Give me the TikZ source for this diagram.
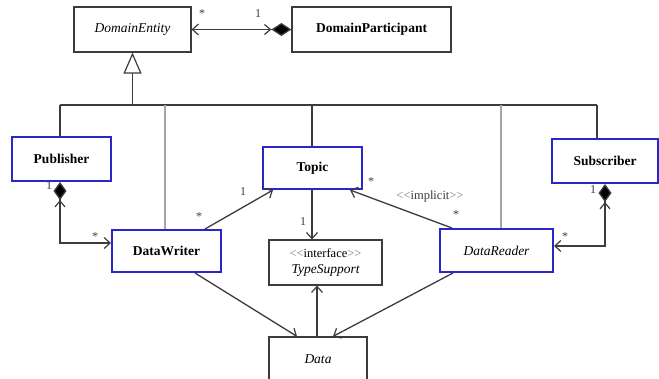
\documentclass[tikz,border=0pt]{standalone}
\usepackage{fontspec}
\setmainfont{Liberation Serif}
\usetikzlibrary{arrows.meta}
\definecolor{boxblue}{RGB}{40,40,200}
\definecolor{linegray}{RGB}{60,60,60}
\definecolor{lightline}{RGB}{165,165,165}
\definecolor{stereo}{RGB}{120,120,120}
\newcommand{\lguil}{<\kern0pt<}
\newcommand{\rguil}{>\kern0pt>}
\begin{document}
\begin{tikzpicture}[x=1pt,y=-1pt,
  plainbox/.style={draw=linegray,line width=1.2pt,fill=white,inner sep=0pt,font=\fontsize{13.5}{15}\selectfont},
  bluebox/.style={draw=boxblue,line width=2pt,fill=white,inner sep=0pt,font=\fontsize{13.5}{15}\selectfont\bfseries},
  conn/.style={draw=linegray,line width=1.3pt},
  greyconn/.style={draw=lightline,line width=1.4pt},
  barb/.style={-{Straight Barb[length=6pt,width=11pt,line width=1.2pt]}},
  mult/.style={font=\fontsize{12}{13}\selectfont,text=linegray,inner sep=0pt}
]
\clip (0,0) rectangle (659,378);
\fill[white] (0,0) rectangle (659,378);

% classes
\node[plainbox,minimum width=117pt,minimum height=45pt] (de) at (132.5,29.5) {\itshape DomainEntity};
\node[plainbox,minimum width=159pt,minimum height=45pt,font=\fontsize{13.5}{15}\selectfont\bfseries] (dp) at (371.5,29.5) {DomainParticipant};
\node[bluebox,minimum width=99pt,minimum height=44pt] (pub) at (61.5,159) {Publisher};
\node[bluebox,minimum width=99pt,minimum height=42pt] (topic) at (312.5,168) {Topic};
\node[bluebox,minimum width=106pt,minimum height=44pt] (sub) at (605,161) {Subscriber};
\node[bluebox,minimum width=109pt,minimum height=42pt] (dw) at (166.5,251) {DataWriter};
\node[bluebox,minimum width=113pt,minimum height=43pt,font=\fontsize{13.5}{15}\selectfont\itshape] (dr) at (496.5,250.5) {DataReader};
\node[plainbox,minimum width=113pt,minimum height=45pt,align=center] (ts) at (325.5,262.5)
  {{\fontsize{12.5}{14}\selectfont\textcolor{stereo}{\lguil}interface\textcolor{stereo}{\rguil}}\\[1pt]\itshape TypeSupport};
\node[plainbox,minimum width=98pt,minimum height=44pt] (data) at (318,359) {\itshape Data};

% generalisation bus
\coordinate (busL) at (60,105);
\coordinate (busR) at (597,105);
\draw[conn] (busL) -- (busR);
\draw[conn,-{Triangle[open,length=21pt,width=18pt,line width=1.2pt]}] (de.south |- busL) -- (de.south);
\draw[conn] (pub.north -| busL) -- (busL);
\draw[greyconn] (165,105) -- (dw.north -| 165,0);
\draw[conn] (312,105) -- (topic.north -| 312,0);
\draw[greyconn] (501,105) -- (dr.north -| 501,0);
\draw[conn] (busR) -- (busR |- sub.north);

% DomainEntity - DomainParticipant
\draw[conn,{Straight Barb[length=6pt,width=11pt,line width=1.2pt]}-{Straight Barb[length=6pt,width=10pt,line width=1.2pt] Diamond[length=20pt,width=13pt,fill=black]}]
  (de.east) -- (dp.west);
\node[mult] at (202,14) {*};
\node[mult] at (258,14) {1};

% Publisher - DataWriter
\coordinate (pubc) at (60,243);
\draw[conn,{Diamond[length=18pt,width=13pt,fill=black] Straight Barb[length=6pt,width=10pt,line width=1.2pt]}-{Straight Barb[length=6pt,width=11pt,line width=1.2pt]}]
  (pub.south -| pubc) -- (pubc) -- (dw.west |- pubc);
\node[mult] at (49,186) {1};
\node[mult] at (95,237) {*};

% Subscriber - DataReader
\coordinate (subc) at (605,246);
\draw[conn,{Diamond[length=18pt,width=13pt,fill=black] Straight Barb[length=6pt,width=10pt,line width=1.2pt]}-{Straight Barb[length=6pt,width=11pt,line width=1.2pt]}]
  (sub.south -| subc) -- (subc) -- (dr.east |- subc);
\node[mult] at (593,190) {1};
\node[mult] at (565,237) {*};

% DataWriter -> Topic
\draw[conn,barb] (dw.north -| 205,0) -- (topic.south -| 273,0);
\node[mult] at (243,192) {1};
\node[mult] at (199,217) {*};

% DataReader -> Topic
\draw[conn,barb] (dr.north -| 452,0) -- (topic.south -| 350,0);
\node[mult] at (371,182) {*};
\node[mult,font=\fontsize{12.5}{13}\selectfont] at (430,196) {\textcolor{stereo}{\lguil}implicit\textcolor{stereo}{\rguil}};
\node[mult] at (456,215) {*};

% Topic -> TypeSupport
\draw[conn,barb] (topic.south -| 312,0) -- (ts.north -| 312,0);
\node[mult] at (303,222) {1};

% data flows
\draw[conn,barb] (dw.south -| 195,0) -- (data.north -| 297,0);
\draw[conn,barb] (dr.south -| 453,0) -- (data.north -| 333,0);
\draw[conn,barb] (data.north -| 317,0) -- (ts.south -| 317,0);
\end{tikzpicture}
\end{document}
